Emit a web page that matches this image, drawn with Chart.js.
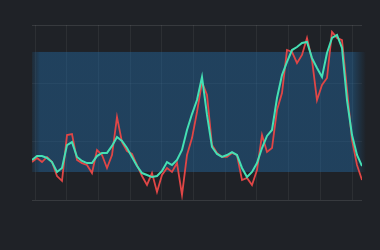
<!DOCTYPE html>
<html>
<head>
<meta charset="utf-8">
<script src="https://cdn.jsdelivr.net/npm/chart.js@4.4.1/dist/chart.umd.min.js"></script>
<style>
  html, body { margin: 0; padding: 0; background: #1f2227; }
  #wrap { width: 380px; height: 250px; }
</style>
</head>
<body>
<div id="wrap"><canvas id="chart"></canvas></div>
<script>
// raw signal (red) and smoothed signal (teal), one value per sample
const rawValues = [21.7, 24.0, 21.7, 24.6, 21.7, 13.7, 10.9, 37.1, 37.7, 22.9, 21.1, 20.0, 15.4, 28.6, 25.7, 18.3, 25.7, 47.4, 33.1, 28.0, 26.3, 20.0, 13.7, 8.6, 15.4, 4.6, 14.3, 18.3, 16.0, 21.1, 2.9, 25.7, 35.4, 50.3, 67.4, 60.0, 31.4, 26.9, 24.6, 24.6, 26.9, 25.7, 11.4, 12.6, 8.6, 17.1, 37.1, 27.4, 29.7, 51.4, 61.1, 85.7, 84.6, 78.3, 82.9, 92.6, 80.0, 57.1, 65.7, 69.7, 96.0, 92.6, 91.4, 62.9, 34.3, 20.0, 11.4];
const smoothValues = [22.9, 25.1, 25.1, 24.0, 21.7, 16.0, 18.3, 31.4, 33.1, 24.6, 22.3, 21.1, 21.1, 25.1, 26.9, 26.9, 30.9, 36.0, 33.7, 29.7, 24.6, 19.4, 15.4, 14.3, 13.1, 13.7, 16.6, 21.7, 20.0, 22.9, 28.6, 40.0, 49.1, 57.1, 70.3, 48.6, 30.3, 26.3, 24.6, 25.7, 27.4, 25.7, 18.3, 13.1, 16.0, 21.1, 29.7, 36.6, 40.0, 58.3, 71.4, 78.9, 85.7, 87.4, 89.7, 90.3, 81.1, 75.4, 70.3, 84.0, 92.6, 94.3, 86.9, 57.1, 37.1, 25.7, 19.4];
const samples = rawValues.map((_, i) => i);

// shaded "normal range" band
const bandLow = 16;
const bandHigh = 84.6;
const bandFrom = 0;
const bandTo = 64;

// where the grid lines sit (no tick labels are shown)
const xGridAt = [0.6, 6.94, 13.28, 19.62, 25.96, 32.3, 38.64, 44.98, 51.32, 57.66, 64.0];
const yGridAt = [0, 33.33, 66.67, 100];

const bandPlugin = {
  id: "band",
  beforeDatasetsDraw(chart) {
    const { ctx, scales } = chart;
    const top = scales.y.getPixelForValue(bandHigh);
    const bottom = scales.y.getPixelForValue(bandLow);
    const left = scales.x.getPixelForValue(bandFrom);
    const right = scales.x.getPixelForValue(bandTo);
    const fadeEnd = right + 14;
    const g = ctx.createLinearGradient(left, 0, fadeEnd, 0);
    const w = fadeEnd - left;
    g.addColorStop(0, "rgba(35,110,170,0.12)");
    g.addColorStop(8 / w, "rgba(35,110,170,0.42)");
    g.addColorStop((right - left) / w, "rgba(35,110,170,0.42)");
    g.addColorStop(1, "rgba(35,110,170,0.0)");
    ctx.save();
    ctx.fillStyle = g;
    ctx.fillRect(left, top, fadeEnd - left, bottom - top);
    ctx.restore();
  },
};

const ctx = document.getElementById("chart").getContext("2d");
new Chart(ctx, {
  type: "line",
  data: {
    labels: samples,
    datasets: [
      {
        label: "Raw",
        data: rawValues,
        borderColor: "#e04646",
        borderWidth: 1.8,
        pointRadius: 0,
        tension: 0,
        order: 1,
      },
      {
        label: "Smoothed",
        data: smoothValues,
        borderColor: "#45e0b4",
        borderWidth: 2,
        pointRadius: 0,
        tension: 0,
        order: 0,
      },
    ],
  },
  options: {
    responsive: true,
    maintainAspectRatio: false,
    animation: false,
    layout: { padding: { left: 32, right: 18, top: 25, bottom: 50 } },
    plugins: { legend: { display: false }, tooltip: { enabled: false } },
    scales: {
      x: {
        type: "linear",
        min: 0,
        max: samples.length - 1,
        afterBuildTicks: (axis) => { axis.ticks = xGridAt.map((v) => ({ value: v })); },
        ticks: { display: false },
        border: { display: false },
        grid: { color: "rgba(255,255,255,0.06)", drawTicks: false },
      },
      y: {
        min: 0,
        max: 100,
        afterBuildTicks: (axis) => { axis.ticks = yGridAt.map((v) => ({ value: v })); },
        ticks: { display: false },
        border: { display: false },
        grid: {
          drawTicks: false,
          color: (c) => (c.tick && (c.tick.value === 0 || c.tick.value === 100))
            ? "rgba(255,255,255,0.11)" : "rgba(255,255,255,0.05)",
        },
      },
    },
  },
  plugins: [bandPlugin],
});
</script>
</body>
</html>
